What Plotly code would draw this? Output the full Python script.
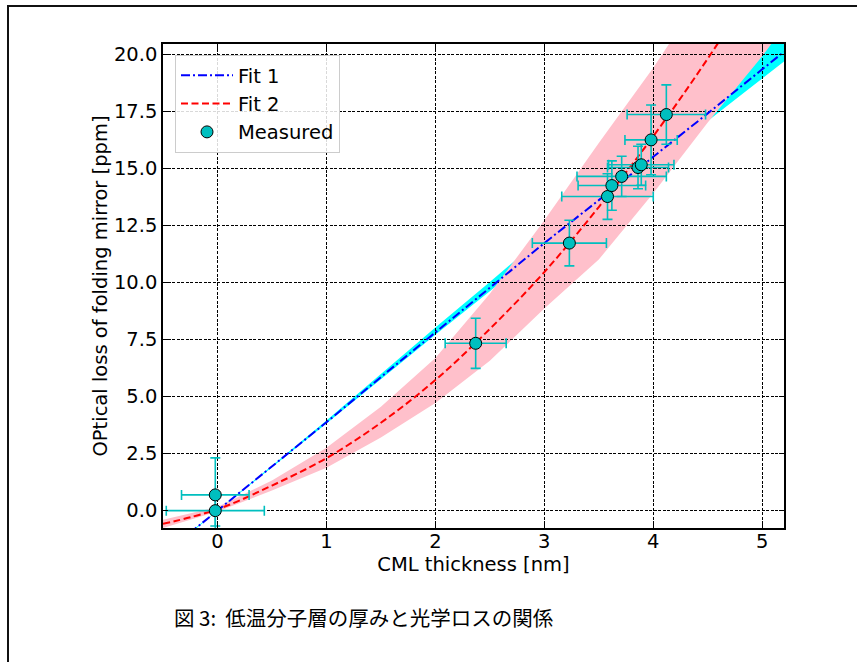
import plotly.graph_objects as go

# ---- measured data ----
meas_x = [-0.02, -0.02, 2.37, 3.23, 3.58, 3.62, 3.71, 3.86, 3.89, 3.98, 4.12]
meas_y = [0.69, 0.00, 7.33, 11.72, 13.76, 14.24, 14.64, 15.03, 15.15, 16.24, 17.35]
meas_xerr = [0.31, 0.45, 0.28, 0.34, 0.42, 0.31, 0.41, 0.28, 0.30, 0.24, 0.36]
meas_yerr = [1.62, 0.67, 1.10, 1.00, 1.00, 1.08, 0.88, 0.93, 0.90, 1.53, 1.30]

# ---- fit curves ----
fit_x = [-0.5, 0.0, 0.5, 1.0, 1.5, 2.0, 2.5, 3.0, 3.5, 4.0, 4.5, 5.0, 5.2]
fit1_y = [-1.93, 0.00, 1.93, 3.87, 5.85, 7.82, 9.77, 11.72, 13.60, 15.49, 17.40, 19.33, 20.10]
fit1_lo = [-1.96, -0.02, 1.90, 3.82, 5.76, 7.70, 9.61, 11.52, 13.36, 15.21, 17.07, 18.93, 19.67]
fit1_hi = [-1.90, 0.02, 1.97, 3.95, 5.99, 8.02, 10.02, 12.04, 14.00, 15.99, 18.05, 20.18, 21.05]
fit2_y = [-0.58, 0.06, 1.10, 2.30, 3.85, 5.72, 7.96, 10.45, 13.30, 16.40, 19.80, 23.50, 25.10]
fit2_lo = [-0.76, -0.04, 0.88, 1.88, 3.20, 4.72, 6.57, 8.85, 11.00, 13.90, 17.00, 19.90, 21.20]
fit2_hi = [-0.40, 0.16, 1.32, 2.76, 4.55, 6.69, 9.50, 12.72, 16.10, 19.40, 23.00, 27.00, 28.70]

x_ticks = [0, 1, 2, 3, 4, 5]
x_ticktext = ["0", "1", "2", "3", "4", "5"]
y_ticks = [0, 2.5, 5, 7.5, 10, 12.5, 15, 17.5, 20]
y_ticktext = ["0.0", "2.5", "5.0", "7.5", "10.0", "12.5", "15.0", "17.5", "20.0"]

caption = "図 3:\u00a0\u00a0低温分子層の厚みと光学ロスの関係"

FONT = "DejaVu Sans"
FS = 19.5

# page geometry (pixels)
W, H = 857, 662
L, R, T, B = 163, 73, 44, 134
PW, PH = W - L - R, H - T - B


def px_x(p):
    return (p - L) / PW


def px_y(p):
    return (H - B - p) / PH


def band_path(xs, lo, hi):
    pts = [f"{x},{y}" for x, y in zip(xs, lo)]
    pts += [f"{x},{y}" for x, y in zip(reversed(xs), reversed(hi))]
    return "M " + " L ".join(pts) + " Z"


fig = go.Figure()

fig.add_trace(go.Scatter(
    x=fit_x, y=fit1_y, mode="lines", name="Fit 1",
    line=dict(color="#0000FF", width=2, dash="9px,3px,2px,3px"),
))
fig.add_trace(go.Scatter(
    x=fit_x, y=fit2_y, mode="lines", name="Fit 2",
    line=dict(color="#FF0000", width=2, dash="7px,3.5px", shape="spline"),
))
fig.add_trace(go.Scatter(
    x=meas_x, y=meas_y, mode="markers", name="Measured",
    marker=dict(color="#00BFBF", size=12, line=dict(color="black", width=1)),
    error_x=dict(type="data", array=meas_xerr, color="#00BFBF", thickness=1.6, width=5),
    error_y=dict(type="data", array=meas_yerr, color="#00BFBF", thickness=1.6, width=5),
))

shapes = [
    dict(type="path", path=band_path(fit_x, fit1_lo, fit1_hi), xref="x", yref="y",
         fillcolor="#00FFFF", line=dict(width=0), layer="below"),
    dict(type="path", path=band_path(fit_x, fit2_lo, fit2_hi), xref="x", yref="y",
         fillcolor="#FFC0CB", line=dict(width=0), layer="below"),
    dict(type="rect", xref="paper", yref="paper",
         x0=px_x(8), x1=px_x(880), y0=px_y(700), y1=px_y(6),
         line=dict(color="#111111", width=2), fillcolor="rgba(0,0,0,0)", layer="below"),
]

axis_common = dict(
    showline=True, linecolor="black", linewidth=1.5, mirror="allticks",
    ticks="inside", ticklen=5, tickwidth=1, tickcolor="black",
    showgrid=True, gridcolor="black", gridwidth=0.8, griddash="3px,1.5px",
    zeroline=False, tickfont=dict(family=FONT, size=FS, color="black"),
)

fig.update_layout(
    width=W, height=H,
    margin=dict(l=L, r=R, t=T, b=B, pad=0),
    paper_bgcolor="white", plot_bgcolor="white",
    font=dict(family=FONT, size=FS, color="black"),
    shapes=shapes,
    xaxis=dict(range=[-0.5, 5.2], tickvals=x_ticks, ticktext=x_ticktext,
               ticklabelstandoff=-5,
               title=dict(text="CML thickness [nm]", font=dict(family=FONT, size=FS), standoff=2),
               **axis_common),
    yaxis=dict(range=[-0.76, 20.44], tickvals=y_ticks, ticktext=y_ticktext,
               title=dict(text="OPtical loss of folding mirror [ppm]", font=dict(family=FONT, size=FS), standoff=1),
               **axis_common),
    legend=dict(x=px_x(175), y=px_y(55), xanchor="left", yanchor="top",
                bgcolor="rgba(255,255,255,0.85)", bordercolor="#CCCCCC", borderwidth=1,
                itemwidth=52, font=dict(family=FONT, size=FS)),
    showlegend=True,
    annotations=[dict(
        text=caption, xref="paper", yref="paper", x=px_x(172), y=px_y(617),
        xanchor="left", yanchor="middle", showarrow=False,
        font=dict(family="Noto Sans CJK JP", size=20.5, color="black"),
    )],
)

fig.write_html("out.html", config={"displayModeBar": False},
               post_script="document.body.style.margin='0';")
